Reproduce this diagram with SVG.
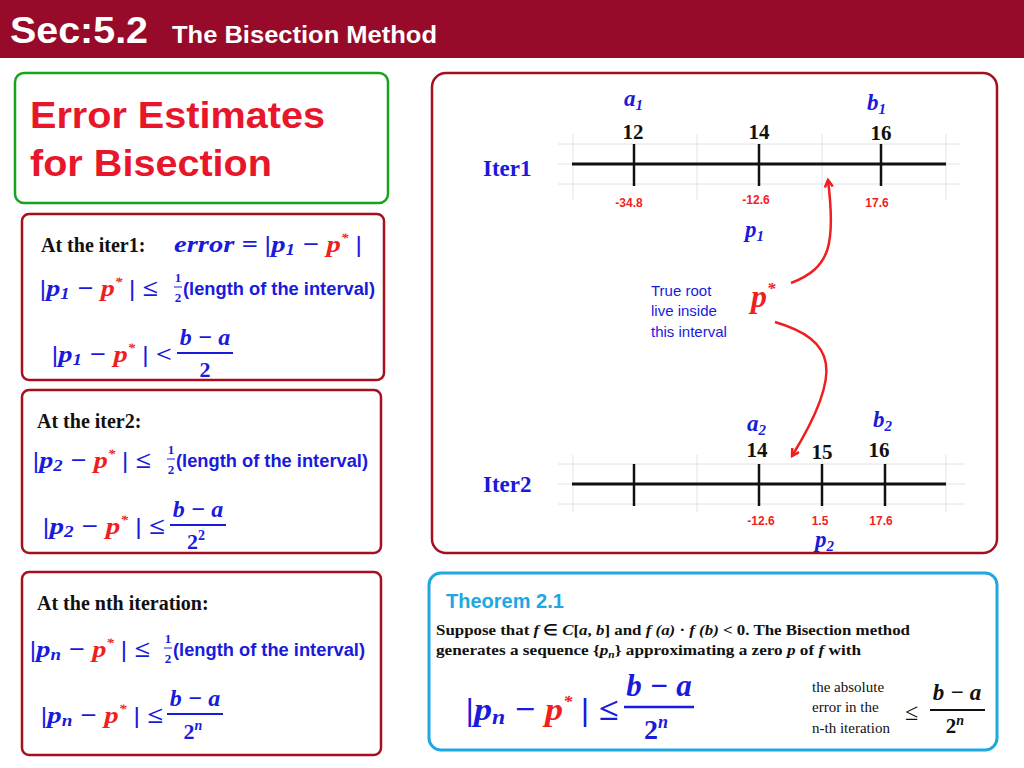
<svg xmlns="http://www.w3.org/2000/svg" width="1024" height="768" viewBox="0 0 1024 768">
<defs>
<style>
.box{fill:#fff;stroke:#a50f1e;stroke-width:2.5}
.m{font-family:"Liberation Serif",serif;font-weight:bold;font-style:italic}
.mu{font-family:"Liberation Serif",serif;font-weight:bold}
.b{fill:#1a1adc}.r{fill:#f01e1e}.k{fill:#111}
.cal{font-family:"Liberation Sans",sans-serif;font-weight:bold;fill:#1a1adc}
.grid{stroke:#e2e2e2;stroke-width:1}
.ax{stroke:#111;stroke-width:3}
.tk{stroke:#111;stroke-width:2.5}
.num{font-family:"Liberation Serif",serif;font-weight:bold;font-size:21px;fill:#111;text-anchor:middle}
.val{font-family:"Liberation Sans",sans-serif;font-weight:bold;font-size:12px;fill:#f01e1e;text-anchor:middle}
.sm{font-family:"Liberation Serif",serif;font-size:15px;fill:#111}
</style>
<marker id="ah" markerWidth="10" markerHeight="10" refX="8" refY="5" orient="auto" markerUnits="userSpaceOnUse"><path d="M1,1 L8,5 L1,9" fill="none" stroke="#f01e1e" stroke-width="2.5"/></marker>
</defs>
<rect width="1024" height="768" fill="#fff"/>
<g id="header"><rect x="0" y="0" width="1024" height="58" fill="#980a2a"/>
<text x="10" y="43" font-family="Liberation Sans,sans-serif" font-weight="bold" font-size="37" fill="#fff" textLength="138" lengthAdjust="spacingAndGlyphs">Sec:5.2</text>
<text x="172" y="43" font-family="Liberation Sans,sans-serif" font-weight="bold" font-size="23" fill="#fff" textLength="265" lengthAdjust="spacingAndGlyphs">The Bisection Method</text></g>

<g id="title"><rect x="15" y="73" width="373" height="130" rx="9" fill="#fff" stroke="#17a31c" stroke-width="2.5"/>
<text x="30" y="128" font-family="Liberation Sans,sans-serif" font-weight="bold" font-size="37" fill="#e8162a" textLength="295" lengthAdjust="spacingAndGlyphs">Error Estimates</text>
<text x="30" y="176" font-family="Liberation Sans,sans-serif" font-weight="bold" font-size="37" fill="#e8162a" textLength="242" lengthAdjust="spacingAndGlyphs">for Bisection</text></g>

<g id="iter1box"><rect class="box" x="22" y="214" width="362" height="166" rx="7"/>
<text x="41" y="252" class="mu k" font-size="20">At the iter1:</text>
<text x="174" y="252" class="m b" font-size="24" textLength="188" lengthAdjust="spacingAndGlyphs">error = |p<tspan class="mu" font-size="16" dy="3">1</tspan><tspan dy="-3"> − </tspan><tspan class="r">p</tspan><tspan class="r" font-size="13" dy="-10">*</tspan><tspan dy="10">  |</tspan></text>
<text x="40" y="296" class="m b" font-size="24" textLength="118" lengthAdjust="spacingAndGlyphs">|p<tspan class="mu" font-size="16" dy="3">1</tspan><tspan dy="-3"> − </tspan><tspan class="r">p</tspan><tspan class="r" font-size="13" dy="-10">*</tspan><tspan dy="10">  | ≤</tspan></text>
<text x="178" y="282" class="mu b" font-size="13" text-anchor="middle">1</text>
<line x1="174" y1="287" x2="182" y2="287" stroke="#1a1adc" stroke-width="1"/>
<text x="178" y="302" class="mu b" font-size="13" text-anchor="middle">2</text>
<text x="183" y="295" class="cal" font-size="18" textLength="192" lengthAdjust="spacingAndGlyphs">(length of the interval)</text>
<text x="52" y="362" class="m b" font-size="24" textLength="120" lengthAdjust="spacingAndGlyphs">|p<tspan class="mu" font-size="16" dy="3">1</tspan><tspan dy="-3"> − </tspan><tspan class="r">p</tspan><tspan class="r" font-size="13" dy="-10">*</tspan><tspan dy="10">  | &lt;</tspan></text>
<text x="205" y="345" class="m b" font-size="24" text-anchor="middle">b − a</text>
<line x1="177" y1="353" x2="233" y2="353" stroke="#1a1adc" stroke-width="2"/>
<text x="205" y="377" class="mu b" font-size="22" text-anchor="middle">2</text></g>

<g id="iter2box"><rect class="box" x="22" y="390" width="359" height="163" rx="7"/>
<text x="37" y="428" class="mu k" font-size="20">At the iter2:</text>
<text x="33" y="468" class="m b" font-size="24" textLength="118" lengthAdjust="spacingAndGlyphs">|p<tspan class="mu" font-size="16" dy="3">2</tspan><tspan dy="-3"> − </tspan><tspan class="r">p</tspan><tspan class="r" font-size="13" dy="-10">*</tspan><tspan dy="10">  | ≤</tspan></text>
<text x="171" y="454" class="mu b" font-size="13" text-anchor="middle">1</text>
<line x1="167" y1="459" x2="175" y2="459" stroke="#1a1adc" stroke-width="1"/>
<text x="171" y="474" class="mu b" font-size="13" text-anchor="middle">2</text>
<text x="176" y="467" class="cal" font-size="18" textLength="192" lengthAdjust="spacingAndGlyphs">(length of the interval)</text>
<text x="43" y="534" class="m b" font-size="24" textLength="122" lengthAdjust="spacingAndGlyphs">|p<tspan class="mu" font-size="16" dy="3">2</tspan><tspan dy="-3"> − </tspan><tspan class="r">p</tspan><tspan class="r" font-size="13" dy="-10">*</tspan><tspan dy="10">  | ≤</tspan></text>
<text x="198" y="517" class="m b" font-size="24" text-anchor="middle">b − a</text>
<line x1="170" y1="525" x2="226" y2="525" stroke="#1a1adc" stroke-width="2"/>
<text x="196" y="549" class="mu b" font-size="22" text-anchor="middle">2<tspan font-size="14" dy="-9">2</tspan></text></g>

<g id="nthbox"><rect class="box" x="22" y="572" width="359" height="183" rx="7"/>
<text x="37" y="610" class="mu k" font-size="20">At the nth iteration:</text>
<text x="30" y="657" class="m b" font-size="24" textLength="120" lengthAdjust="spacingAndGlyphs">|p<tspan font-size="16" dy="3">n</tspan><tspan dy="-3"> − </tspan><tspan class="r">p</tspan><tspan class="r" font-size="13" dy="-10">*</tspan><tspan dy="10">  | ≤</tspan></text>
<text x="168" y="643" class="mu b" font-size="13" text-anchor="middle">1</text>
<line x1="164" y1="648" x2="172" y2="648" stroke="#1a1adc" stroke-width="1"/>
<text x="168" y="663" class="mu b" font-size="13" text-anchor="middle">2</text>
<text x="173" y="656" class="cal" font-size="18" textLength="192" lengthAdjust="spacingAndGlyphs">(length of the interval)</text>
<text x="41" y="723" class="m b" font-size="24" textLength="122" lengthAdjust="spacingAndGlyphs">|p<tspan font-size="16" dy="3">n</tspan><tspan dy="-3"> − </tspan><tspan class="r">p</tspan><tspan class="r" font-size="13" dy="-10">*</tspan><tspan dy="10">  | ≤</tspan></text>
<text x="195" y="706" class="m b" font-size="24" text-anchor="middle">b − a</text>
<line x1="167" y1="714" x2="223" y2="714" stroke="#1a1adc" stroke-width="2"/>
<text x="193" y="739" class="mu b" font-size="22" text-anchor="middle">2<tspan class="m" font-size="14" dy="-9">n</tspan></text></g>

<g id="numberlines"><rect class="box" x="432" y="73" width="565" height="480" rx="14"/>
<g class="grid"><line x1="558" y1="144" x2="960" y2="144"/><line x1="558" y1="184" x2="960" y2="184"/><line x1="558" y1="164" x2="960" y2="164"/>
<line x1="573" y1="134" x2="573" y2="200"/><line x1="697" y1="134" x2="697" y2="200"/><line x1="822" y1="134" x2="822" y2="200"/><line x1="946" y1="134" x2="946" y2="200"/>
<line x1="558" y1="464" x2="965" y2="464"/><line x1="558" y1="504" x2="965" y2="504"/><line x1="558" y1="484" x2="965" y2="484"/>
<line x1="573" y1="455" x2="573" y2="512"/><line x1="697" y1="455" x2="697" y2="512"/><line x1="822" y1="455" x2="822" y2="512"/><line x1="946" y1="455" x2="946" y2="512"/></g>
<line class="ax" x1="572" y1="164" x2="946" y2="164"/>
<line class="tk" x1="634" y1="144" x2="634" y2="186"/><line class="tk" x1="759" y1="144" x2="759" y2="186"/><line class="tk" x1="881" y1="144" x2="881" y2="186"/>
<line class="ax" x1="572" y1="484" x2="946" y2="484"/>
<line class="tk" x1="634" y1="464" x2="634" y2="506"/><line class="tk" x1="759" y1="464" x2="759" y2="506"/><line class="tk" x1="822" y1="464" x2="822" y2="506"/><line class="tk" x1="885" y1="464" x2="885" y2="506"/>
<text x="483" y="176" class="mu b" font-size="23">Iter1</text>
<text x="483" y="492" class="mu b" font-size="23">Iter2</text>
<text x="624" y="106" class="m b" font-size="23">a<tspan class="mu" font-size="15" dy="4">1</tspan></text>
<text x="867" y="110" class="m b" font-size="23">b<tspan class="mu" font-size="15" dy="4">1</tspan></text>
<text x="633" y="139" class="num">12</text><text x="759" y="139" class="num">14</text><text x="881" y="140" class="num">16</text>
<text x="629" y="207" class="val">-34.8</text><text x="756" y="204" class="val">-12.6</text><text x="877" y="207" class="val">17.6</text>
<text x="745" y="237" class="m b" font-size="23">p<tspan class="mu" font-size="15" dy="4">1</tspan></text>
<text x="651" y="296" font-family="Liberation Sans,sans-serif" font-size="15" fill="#1a1adc">True root</text>
<text x="651" y="316" font-family="Liberation Sans,sans-serif" font-size="15" fill="#1a1adc">live inside</text>
<text x="651" y="337" font-family="Liberation Sans,sans-serif" font-size="15" fill="#1a1adc">this interval</text>
<text x="751" y="307" class="m r" font-size="32">p<tspan font-size="17" dy="-13">*</tspan></text>
<text x="747" y="431" class="m b" font-size="23">a<tspan class="mu" font-size="15" dy="4">2</tspan></text>
<text x="873" y="427" class="m b" font-size="23">b<tspan class="mu" font-size="15" dy="4">2</tspan></text>
<text x="757" y="457" class="num">14</text><text x="822" y="459" class="num">15</text><text x="879" y="457" class="num">16</text>
<text x="761" y="525" class="val">-12.6</text><text x="820" y="525" class="val">1.5</text><text x="881" y="525" class="val">17.6</text>
<text x="815" y="547" class="m b" font-size="23">p<tspan class="mu" font-size="15" dy="4">2</tspan></text></g>

<g id="connectors" fill="none" stroke="#f01e1e" stroke-width="2.5">
<path d="M791 283 C830 268 836 245 828 180" marker-end="url(#ah)"/>
<path d="M775 322 C835 340 845 370 792 456" marker-end="url(#ah)"/>
</g>

<g id="theorem"><rect x="429" y="573" width="568" height="177" rx="12" fill="#fff" stroke="#1ea7e1" stroke-width="3"/>
<text x="446" y="608" font-family="Liberation Sans,sans-serif" font-weight="bold" font-size="20" fill="#1ea7e1">Theorem 2.1</text>
<text x="436" y="635" class="mu k" font-size="15" textLength="474" lengthAdjust="spacingAndGlyphs">Suppose that <tspan font-style="italic">f</tspan> ∈ <tspan font-style="italic">C</tspan>[<tspan font-style="italic">a</tspan>, <tspan font-style="italic">b</tspan>] and <tspan font-style="italic">f (a)</tspan>  · <tspan font-style="italic">f (b)</tspan> &lt; 0. The Bisection method</text>
<text x="436" y="655" class="mu k" font-size="15" textLength="425" lengthAdjust="spacingAndGlyphs">generates a sequence {<tspan font-style="italic">p<tspan font-size="10" dy="3">n</tspan></tspan><tspan dy="-3">} approximating a zero </tspan><tspan font-style="italic">p</tspan> of <tspan font-style="italic">f</tspan> with</text>
<text x="466" y="720" class="m b" font-size="32" textLength="152" lengthAdjust="spacingAndGlyphs">|p<tspan font-size="21" dy="4">n</tspan><tspan dy="-4"> − </tspan><tspan class="r">p</tspan><tspan class="r" font-size="16" dy="-13">*</tspan><tspan dy="13">  | ≤</tspan></text>
<text x="659" y="696" class="m b" font-size="31" text-anchor="middle">b − a</text>
<line x1="624" y1="707" x2="694" y2="707" stroke="#1a1adc" stroke-width="2.5"/>
<text x="656" y="739" class="mu b" font-size="28" text-anchor="middle">2<tspan class="m" font-size="18" dy="-11">n</tspan></text>
<text x="812" y="692" class="sm">the absolute</text>
<text x="812" y="712" class="sm">error in the</text>
<text x="812" y="733" class="sm">n-th iteration</text>
<text x="905" y="720" font-family="Liberation Serif,serif" font-size="24" fill="#111">≤</text>
<text x="957" y="700" class="m k" font-size="23" text-anchor="middle">b − a</text>
<line x1="930" y1="710" x2="985" y2="710" stroke="#111" stroke-width="2"/>
<text x="955" y="733" class="mu k" font-size="21" text-anchor="middle">2<tspan class="m" font-size="14" dy="-8">n</tspan></text></g>
</svg>
